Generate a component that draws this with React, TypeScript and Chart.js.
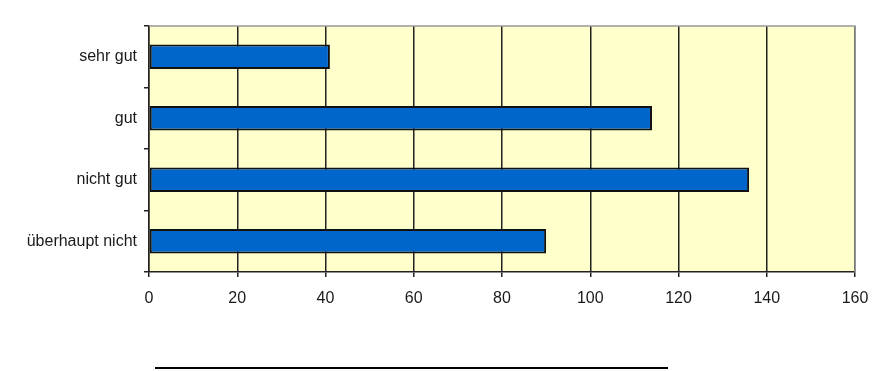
import React, { useEffect, useRef } from "react";
import { Chart, registerables } from "chart.js";

Chart.register(...registerables);

const categories = ["sehr gut", "gut", "nicht gut", "überhaupt nicht"];
const values = [41, 114, 136, 90];
const xMin = 0;
const xMax = 160;
const xStep = 20;

const PLOT_LEFT = 149;
const PLOT_TOP = 26;
const PLOT_RIGHT = 855;
const PLOT_BOTTOM = 272;
const W = 893;
const H = 371;

const bgPlugin = {
  id: "plotBg",
  beforeDraw(chart: any) {
    const { ctx, chartArea } = chart;
    ctx.save();
    ctx.fillStyle = "#FFFFCC";
    ctx.fillRect(chartArea.left, chartArea.top, chartArea.right - chartArea.left, chartArea.bottom - chartArea.top);
    ctx.restore();
  },
  afterDraw(chart: any) {
    const { ctx, chartArea } = chart;
    ctx.save();
    ctx.strokeStyle = "#999999";
    ctx.lineWidth = 1.5;
    ctx.beginPath();
    ctx.moveTo(chartArea.left, chartArea.top);
    ctx.lineTo(chartArea.right, chartArea.top);
    ctx.lineTo(chartArea.right, chartArea.bottom);
    ctx.stroke();
    ctx.restore();
  },
};

export default function App() {
  const ref = useRef<HTMLCanvasElement>(null);
  useEffect(() => {
    document.body.style.margin = "0";
    const chart = new Chart(ref.current!, {
      type: "bar",
      data: {
        labels: categories,
        datasets: [
          {
            data: values,
            backgroundColor: "#0066CC",
            borderColor: "#111111",
            borderWidth: 2,
            borderSkipped: false,
            barPercentage: 0.4,
            categoryPercentage: 1,
          },
        ],
      },
      options: {
        indexAxis: "y",
        animation: false,
        responsive: false,
        maintainAspectRatio: false,
        layout: { padding: { top: PLOT_TOP, right: W - PLOT_RIGHT, left: 0, bottom: 0 } },
        plugins: { legend: { display: false }, tooltip: { enabled: false } },
        scales: {
          x: {
            min: xMin,
            max: xMax,
            ticks: {
              stepSize: xStep,
              color: "#1a1a1a",
              font: { family: "Liberation Sans, Arial, sans-serif", size: 16 },
              padding: 12,
            },
            grid: {
              color: "#222222",
              lineWidth: 1.5,
              tickLength: 5,
              drawTicks: true,
            },
            border: { color: "#222222", width: 1.5 },
            afterFit(scale: any) {
              scale.height = H - PLOT_BOTTOM;
            },
          },
          y: {
            offset: true,
            ticks: {
              color: "#1a1a1a",
              font: { family: "Liberation Sans, Arial, sans-serif", size: 16 },
              padding: 7,
            },
            grid: {
              offset: true,
              drawOnChartArea: false,
              color: "#222222",
              lineWidth: 1.5,
              tickLength: 5,
            },
            border: { color: "#222222", width: 1.5 },
            afterFit(scale: any) {
              scale.width = PLOT_LEFT;
            },
          },
        },
      },
      plugins: [bgPlugin],
    });
    return () => chart.destroy();
  }, []);
  return (
    <div style={{ position: "relative", width: W, height: H }}>
      <canvas ref={ref} width={W} height={H} style={{ display: "block" }} />
      <div style={{ position: "absolute", left: 155, top: 367, width: 513, height: 2, background: "#000" }} />
    </div>
  );
}
